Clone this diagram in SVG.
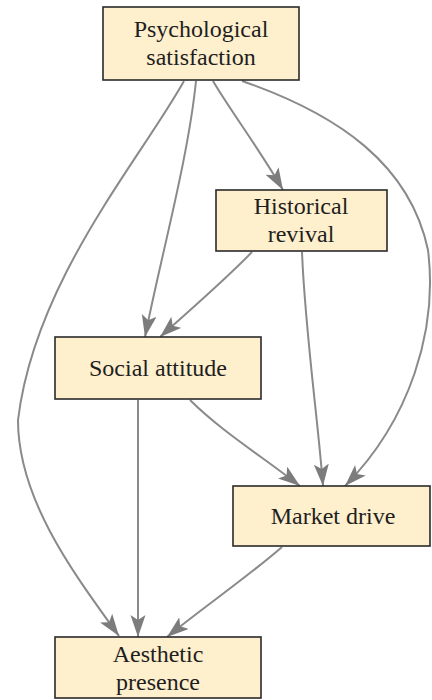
<svg xmlns="http://www.w3.org/2000/svg" width="432" height="700" viewBox="0 0 432 700">
  <style>
    .box { fill: #feefcd; stroke: #2a2a2a; stroke-width: 1.6; }
    .lbl { font-family: "Liberation Serif", "Times New Roman", serif; font-size: 24px; fill: #1e1e1e; text-anchor: middle; }
    .edge { fill: none; stroke: #8a8a8a; stroke-width: 2; marker-end: url(#head); }
  </style>
  <defs>
    <marker id="head" markerUnits="userSpaceOnUse" markerWidth="24" markerHeight="16" refX="22" refY="7.5" orient="auto">
      <path d="M0,0 L22,7.5 L0,15 L5,7.5 z" fill="#7c7c7c"/>
    </marker>
  </defs>
  <rect width="432" height="700" fill="#ffffff"/>

  <g id="connectors">
    <!-- Psychological satisfaction -> Aesthetic presence -->
    <path class="edge" d="M184,81 C140,160 35,280 18,420 C18,500 75,575 119,636"/>
    <!-- Psychological satisfaction -> Social attitude -->
    <path class="edge" d="M196,81 C188,160 160,260 145,337"/>
    <!-- Psychological satisfaction -> Historical revival -->
    <path class="edge" d="M213,81 C230,110 260,150 283,190"/>
    <!-- Psychological satisfaction -> Market drive -->
    <path class="edge" d="M242,81 C340,115 410,165 428,250 C438,330 410,420 345,486"/>
    <!-- Historical revival -> Social attitude -->
    <path class="edge" d="M252,252 C225,280 190,310 160,337"/>
    <!-- Historical revival -> Market drive -->
    <path class="edge" d="M302,252 C305,330 318,420 323,486"/>
    <!-- Social attitude -> Market drive -->
    <path class="edge" d="M190,400 C220,430 260,455 300,486"/>
    <!-- Social attitude -> Aesthetic presence -->
    <path class="edge" d="M138,400 L138,637"/>
    <!-- Market drive -> Aesthetic presence -->
    <path class="edge" d="M282,547 C250,575 200,610 167,637"/>
  </g>

  <g id="psychological-satisfaction">
    <rect class="box" x="103" y="7" width="196" height="73"/>
    <text class="lbl" x="201" y="37">Psychological</text>
    <text class="lbl" x="201" y="65">satisfaction</text>
  </g>
  <g id="historical-revival">
    <rect class="box" x="216" y="190" width="171" height="61"/>
    <text class="lbl" x="301" y="214">Historical</text>
    <text class="lbl" x="301" y="242">revival</text>
  </g>
  <g id="social-attitude">
    <rect class="box" x="55" y="337" width="206" height="62"/>
    <text class="lbl" x="158" y="376">Social attitude</text>
  </g>
  <g id="market-drive">
    <rect class="box" x="233" y="486" width="197" height="60"/>
    <text class="lbl" x="333" y="524">Market drive</text>
  </g>
  <g id="aesthetic-presence">
    <rect class="box" x="55" y="637" width="206" height="61"/>
    <text class="lbl" x="158" y="662">Aesthetic</text>
    <text class="lbl" x="158" y="690">presence</text>
  </g>
</svg>
